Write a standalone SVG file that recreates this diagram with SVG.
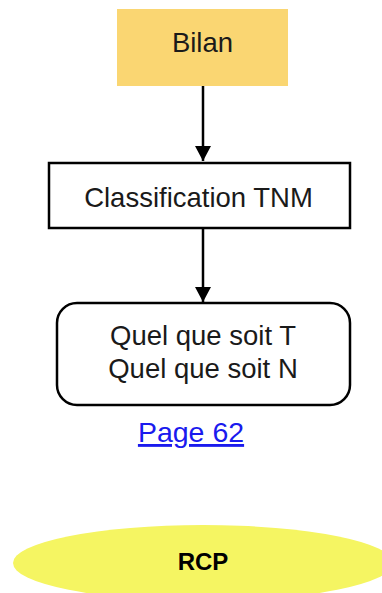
<svg xmlns="http://www.w3.org/2000/svg" width="382" height="593" viewBox="0 0 382 593">
<style>
text{font-family:"Liberation Sans",Arial,sans-serif;font-size:27.5px;fill:#1a1a1a;text-anchor:middle}
.box{fill:#fff;stroke:#000;stroke-width:2.5}
.conn{stroke:#000;stroke-width:2.5;fill:none}
</style>
<defs>
<marker id="ah" markerUnits="userSpaceOnUse" markerWidth="16" markerHeight="18" refX="15" refY="8" orient="auto">
<path d="M0,0 L15,8 L0,16 Z" fill="#000"/>
</marker>
</defs>
<rect width="382" height="593" fill="#fff"/>
<g id="connectors">
<line class="conn" x1="203" y1="86" x2="203" y2="161" marker-end="url(#ah)"/>
<line class="conn" x1="203" y1="228" x2="203" y2="302" marker-end="url(#ah)"/>
</g>
<g id="bilan">
<rect x="117" y="9" width="171" height="77" fill="#FAD672"/>
<text x="202.5" y="52">Bilan</text>
</g>
<g id="classification">
<rect class="box" x="49" y="163" width="301" height="65"/>
<text x="198.5" y="207">Classification TNM</text>
</g>
<g id="quel">
<rect class="box" x="57" y="303" width="293" height="102" rx="20" ry="20"/>
<text x="203" y="345">Quel que soit T</text>
<text x="203" y="378">Quel que soit N</text>
</g>
<g id="page">
<text x="191" y="442" style="font-size:28.5px;fill:#1a1aee;text-decoration:underline">Page 62</text>
</g>
<g id="rcp">
<ellipse cx="203" cy="563" rx="190" ry="38" fill="#F5F562"/>
<text x="203" y="570" style="font-weight:bold;font-size:24px;fill:#000">RCP</text>
</g>
</svg>
